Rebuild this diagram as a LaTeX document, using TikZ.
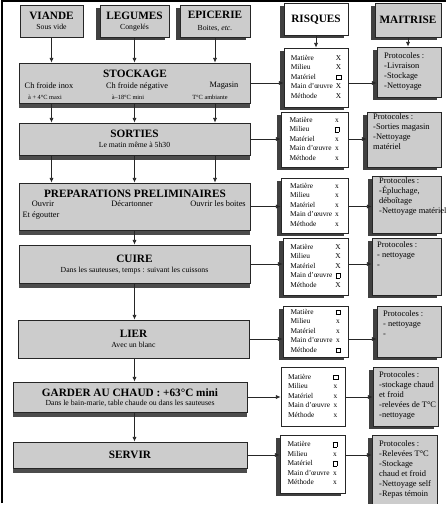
\documentclass[tikz,border=0pt]{standalone}
\usepackage{fontspec}
\setmainfont{Liberation Serif}
\usetikzlibrary{arrows.meta,shadows}

\newcommand{\ttlfont}{\fontsize{9.6}{11}\selectfont\bfseries}
\newcommand{\subfont}{\fontsize{6.6}{8}\selectfont}
\newcommand{\notefont}{\fontsize{7.1}{8.5}\selectfont}
\newcommand{\tinyfont}{\fontsize{5.4}{6.5}\selectfont}
\newcommand{\riskfont}{\fontsize{6.3}{8.1}\selectfont}
\newcommand{\protfont}{\fontsize{7.2}{8.55}\selectfont}
\newcommand{\nobox}{{\setlength{\fboxsep}{0pt}\setlength{\fboxrule}{0.3pt}\fbox{\rule{0pt}{0.6em}\hspace{0.55em}}}}
\newcommand{\risklist}[5]{\begin{tabular}{@{}l@{\hspace{2.5pt}}c@{}}
Matière & #1\\ Milieu & #2\\ Matériel & #3\\ Main d'œuvre & #4\\ Méthode & #5
\end{tabular}}

\begin{document}
\begin{tikzpicture}[x=0.03cm, y=-0.03cm,
  hdr/.style={draw=black!85, fill=black!20, line width=0.6pt, minimum height=0.96cm, inner sep=0pt, align=center, text depth=0pt},
  hshadow/.style={drop shadow={shadow xshift=-0.13cm, shadow yshift=-0.09cm, fill=black!75, opacity=1}},
  procbox/.style={draw=black!85, fill=black!20, line width=0.6pt, inner sep=0pt, align=center, text depth=0pt},
  bshadow/.style={drop shadow={shadow xshift=0cm, shadow yshift=-0.15cm, fill=black!70, opacity=1}},
  riskbox/.style={draw=black!85, fill=white, line width=0.6pt, inner sep=0pt, font=\riskfont},
  ctrlbox/.style={draw=black!85, fill=black!20, line width=0.6pt, inner sep=0pt},
  prot/.style={anchor=north west, inner sep=0pt, align=left, font=\protfont},
  note/.style={inner sep=0pt, font=\notefont},
  flow/.style={-{Latex[length=4pt,width=3.4pt]}, line width=0.6pt, black!85}]

\useasboundingbox (0,0) rectangle (446,512);
\begin{scope}
\clip (0,0) rectangle (446,503);

% edge of the scan
\draw[line width=1.8pt] (2,503) -- (2,1) -- (446,1);

% column heads
\node[hdr, minimum width=1.89cm] (viande) at (51.5,21) {{\ttlfont VIANDE}\\[-3pt]{\subfont Sous vide}};
\node[hdr, hshadow, minimum width=2.07cm] (legumes) at (134.5,21) {{\ttlfont LEGUMES}\\[-3pt]{\subfont Congelés}};
\node[hdr, hshadow, minimum width=2.1cm] (epicerie) at (215,21) {{\ttlfont EPICERIE}\\[-1.5pt]{\subfont Boites, \textit{etc.}}};
\node[hdr, hshadow, fill=white, minimum width=1.92cm] (risques) at (316,19) {\ttlfont RISQUES};
\node[hdr, hshadow, minimum width=1.98cm, minimum height=1.02cm] (maitrise) at (408,20) {\ttlfont MAITRISE};

% steps of the process
\node[procbox, bshadow, minimum width=6.93cm, minimum height=1.2cm] (stock) at (134.5,83) {};
\node[inner sep=0pt, font=\ttlfont] (stocktitle) at (135,74) {STOCKAGE};
\node[note] (inox) at (49,86) {Ch froide inox};
\node[inner sep=0pt, font=\tinyfont] (inoxT) at (45,97) {à + 4°C maxi};
\node[note] (neg) at (137,86) {Ch froide négative};
\node[inner sep=0pt, font=\tinyfont] (negT) at (128,97) {à–18°C mini};
\node[note] (mag) at (224,86) {Magasin};
\node[inner sep=0pt, font=\tinyfont] (magT) at (210,97) {T°C ambiante};

\node[procbox, bshadow, minimum width=6.93cm, minimum height=0.96cm] (sorties) at (134.5,139)
  {{\ttlfont SORTIES}\\[-3.5pt]{\subfont Le matin même à 5h30}};

\node[procbox, bshadow, minimum width=6.93cm, minimum height=1.41cm] (prep) at (134.5,206.5) {};
\node[inner sep=0pt, font=\ttlfont] (preptitle) at (135,194) {PREPARATIONS PRELIMINAIRES};
\node[note] (ouvrir) at (43,204) {Ouvrir};
\node[note] (egoutter) at (41,216) {Et égoutter};
\node[note] (decart) at (132,204) {Décartonner};
\node[note] (boites) at (218,204) {Ouvrir les boites};

\node[procbox, bshadow, minimum width=6.93cm, minimum height=1.14cm] (cuire) at (134.5,264)
  {{\ttlfont CUIRE}\\[-3.5pt]{\subfont Dans les sauteuses, temps : suivant les cuissons}};
\node[procbox, minimum width=6.93cm, minimum height=1.14cm] (lier) at (133.5,339)
  {{\ttlfont LIER}\\[-3.5pt]{\subfont Avec un blanc}};
\node[procbox, bshadow, minimum width=7.02cm, minimum height=0.9cm] (garder) at (130,397)
  {{\ttlfont GARDER AU CHAUD : +63°C mini}\\[-4.5pt]{\subfont Dans le bain-marie, table chaude ou dans les sauteuses}};
\node[procbox, bshadow, minimum width=7.02cm, minimum height=0.78cm] (servir) at (130,455) {\ttlfont SERVIR};

% risks
\node[riskbox, hshadow, minimum width=1.92cm, minimum height=1.77cm] (r1) at (316,77.5) {\risklist{X}{X}{\nobox}{X}{X}};
\node[riskbox, hshadow, minimum width=2.01cm, minimum height=1.65cm] (r2) at (314.5,139.5) {\risklist{x}{\nobox}{x}{x}{x}};
\node[riskbox, hshadow, minimum width=2.01cm, minimum height=1.65cm] (r3) at (314.5,205.5) {\risklist{x}{x}{x}{x}{x}};
\node[riskbox, hshadow, minimum width=1.95cm, minimum height=1.71cm] (r4) at (315.5,266.5) {\risklist{X}{X}{X}{\nobox}{X}};
\node[riskbox, hshadow, minimum width=1.95cm, minimum height=1.53cm] (r5) at (315.5,331.5) {\risklist{\nobox}{x}{x}{x}{\nobox}};
\node[riskbox, minimum width=1.92cm, minimum height=1.77cm] (r6) at (313,396.5) {\risklist{\nobox}{x}{x}{x}{x}};
\node[riskbox, hshadow, minimum width=1.95cm, minimum height=1.74cm] (r7) at (312.5,464) {\risklist{\nobox}{x}{\nobox}{x}{x}};

% control
\node[ctrlbox, hshadow, minimum width=1.92cm, minimum height=1.5cm] (m1) at (409,72) {};
\node[prot] (m1txt) at (384,52) {Protocoles :\\-Livraison\\-Stockage\\-Nettoyage};
\node[ctrlbox, hshadow, minimum width=2.22cm, minimum height=1.65cm] (m2) at (404,139.5) {};
\node[prot] (m2txt) at (373,113) {Protocoles :\\-Sorties magasin\\-Nettoyage\\matériel};
\node[ctrlbox, hshadow, minimum width=2.07cm, minimum height=1.71cm] (m3) at (406.5,204.5) {};
\node[prot] (m3txt) at (379,177) {Protocoles :\\-Épluchage,\\déboîtage\\-Nettoyage matériel};
\node[ctrlbox, hshadow, minimum width=2.07cm, minimum height=1.71cm] (m4) at (406.5,266.5) {};
\node[prot] (m4txt) at (377,241) {Protocoles :\\- nettoyage\\-};
\node[ctrlbox, hshadow, minimum width=1.92cm, minimum height=1.53cm] (m5) at (409,331.5) {};
\node[prot] (m5txt) at (383,310) {Protocoles :\\- nettoyage\\-};
\node[ctrlbox, hshadow, minimum width=1.95cm, minimum height=1.77cm] (m6) at (405.5,396.5) {};
\node[prot] (m6txt) at (379,371) {Protocoles :\\-stockage chaud\\et froid\\-relevées de T°C\\-nettoyage};
\node[ctrlbox, hshadow, minimum width=1.95cm, minimum height=2.31cm] (m7) at (404.5,473.5) {};
\node[prot] (m7txt) at (379,440) {Protocoles :\\-Relevées T°C\\-Stockage\\chaud et froid\\-Nettoyage self\\-Repas témoin};

\begin{scope}[flow]
\foreach \src in {viande,legumes,epicerie} {
  \draw (\src) -- (\src |- stock.north);
  \draw (stock.south -| \src) -- (sorties.north -| \src);
  \draw (sorties.south -| \src) -- (prep.north -| \src);
}
\draw (prep.south -| legumes) -- (cuire.north -| legumes);
\draw (cuire.south -| legumes) -- (lier.north -| legumes);
\draw (lier.south -| legumes) -- (garder.north -| legumes);
\draw (garder.south -| legumes) -- (servir.north -| legumes);
\draw (risques) -- (risques |- r1.north);
\draw (maitrise) -- (maitrise |- m1.north);
\foreach \proc/\r/\m in {stock/r1/m1, sorties/r2/m2, prep/r3/m3, cuire/r4/m4, lier/r5/m5, garder/r6/m6, servir/r7/m7} {
  \draw (\proc.east) -- (\proc.east -| \r.west);
  \draw (\proc.east -| \r.east) -- (\proc.east -| \m.west);
}
\end{scope}

\end{scope}
\end{tikzpicture}
\end{document}
